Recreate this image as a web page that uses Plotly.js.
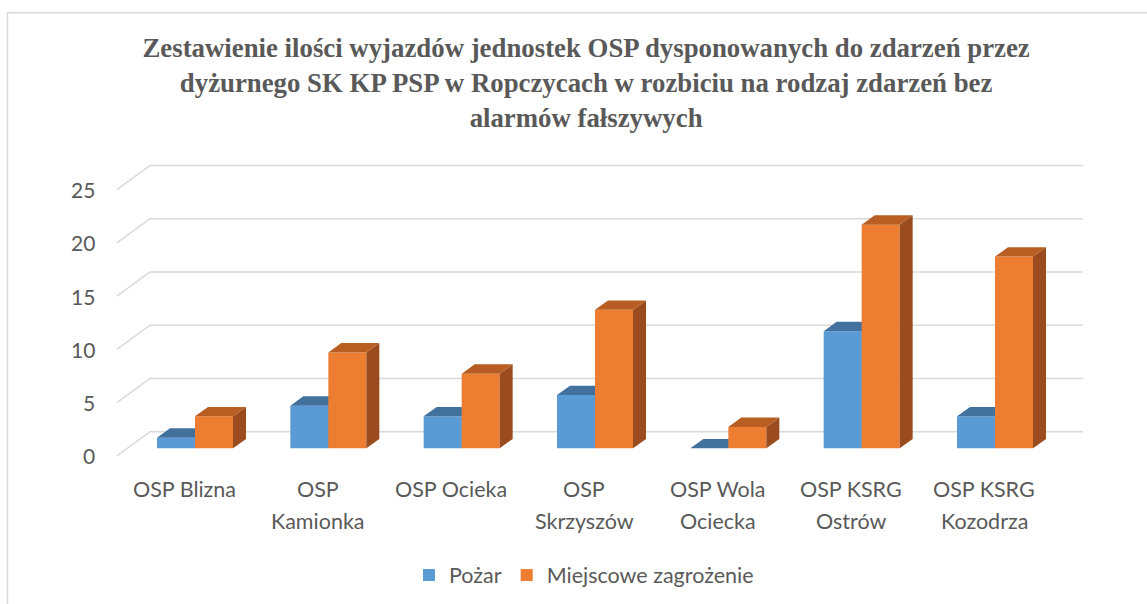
<!DOCTYPE html>
<html>
<head>
<meta charset="utf-8">
<script src="https://cdn.plot.ly/plotly-3.0.1.min.js"></script>
<style>html,body{margin:0;padding:0;background:#fff;}#chart{width:1147px;height:604px;}</style>
</head>
<body>
<div id="chart"></div>
<script>
// ---- data ----
const categories = ['OSP Blizna', 'OSP<br>Kamionka', 'OSP Ocieka', 'OSP<br>Skrzyszów', 'OSP Wola<br>Ociecka', 'OSP KSRG<br>Ostrów', 'OSP KSRG<br>Kozodrza'];
const pozar = [1, 4, 3, 5, 0, 11, 3];
const miejscowe = [3, 9, 7, 13, 2, 21, 18];
const seriesNames = ['Pożar', 'Miejscowe zagrożenie'];
const yTicks = [0, 5, 10, 15, 20, 25];
const titleText = 'Zestawienie ilości wyjazdów jednostek OSP dysponowanych do zdarzeń przez<br>dyżurnego SK KP PSP w Ropczycach w rozbiciu na rodzaj zdarzeń bez<br>alarmów fałszywych';

// ---- style / geometry (pseudo-3D) ----
const BAR_W = 0.285;          // width of one bar in category units
const DX = 0.0975, DY = 0.88; // bar depth offset
const FRONT_DX = -0.079, FRONT_DY = -0.72; // floor front plane vs bar front
const BACK_DX = 0.169, BACK_DY = 1.56;     // back wall vs bar front
const GRID_X0 = -0.3375, GRID_X1 = 6.66;
const colors = [
  {front: '#5B9BD5', top: '#42719E', side: '#3E6B96'},
  {front: '#ED7D31', top: '#B85E22', side: '#9A4C1E'}
];
const textColor = '#595959';
const gridColor = '#D9D9D9';
const FONT = 'Lato, "Liberation Sans", Arial, sans-serif';

const traces = [];

// gridlines (back wall + left connectors)
{
  const gx = [], gy = [];
  yTicks.forEach(v => {
    gx.push(GRID_X0 + FRONT_DX - BACK_DX, GRID_X0, GRID_X1, null);
    gy.push(v + FRONT_DY, v + BACK_DY, v + BACK_DY, null);
  });
  traces.push({type: 'scatter', mode: 'lines', x: gx, y: gy, line: {color: gridColor, width: 1.5},
    hoverinfo: 'skip', showlegend: false});
}

// bars as 3 faces each
[pozar, miejscowe].forEach((vals, s) => {
  const fx = [], fy = [], tx = [], ty = [], sx = [], sy = [];
  vals.forEach((v, i) => {
    const xl = s === 0 ? i - BAR_W : i;
    const xr = xl + BAR_W;
    fx.push(xl, xr, xr, xl, xl, null); fy.push(0, 0, v, v, 0, null);
    tx.push(xl, xr, xr + DX, xl + DX, xl, null); ty.push(v, v, v + DY, v + DY, v, null);
    sx.push(xr, xr + DX, xr + DX, xr, xr, null); sy.push(0, DY, v + DY, v, 0, null);
  });
  const c = colors[s];
  const common = {type: 'scatter', mode: 'lines', fill: 'toself', hoverinfo: 'skip', showlegend: false};
  traces.push(Object.assign({x: fx, y: fy, fillcolor: c.front, line: {width: 0, color: c.front}}, common));
  traces.push(Object.assign({x: sx, y: sy, fillcolor: c.side, line: {width: 0, color: c.side}}, common));
  traces.push(Object.assign({x: tx, y: ty, fillcolor: c.top, line: {width: 0, color: c.top}}, common));
});

// legend entries
seriesNames.forEach((n, s) => {
  traces.push({type: 'bar', name: n, x: [null], y: [null], marker: {color: colors[s].front}, hoverinfo: 'skip'});
});

const annotations = [];
yTicks.forEach(v => {
  annotations.push({x: GRID_X0 + FRONT_DX - BACK_DX, y: v + FRONT_DY, xref: 'x', yref: 'y', text: String(v),
    showarrow: false, xanchor: 'right', yanchor: 'middle', xshift: -20,
    font: {family: FONT, size: 21, color: textColor}});
});
categories.forEach((c, i) => {
  c.split('<br>').forEach((line, k) => {
    annotations.push({x: i + FRONT_DX, y: -0.0594 - k * 0.1, xref: 'x', yref: 'paper', text: line,
      showarrow: false, xanchor: 'center', yanchor: 'middle',
      font: {family: FONT, size: 21.5, color: textColor}});
  });
});

const layout = {
  width: 1147, height: 604,
  margin: {l: 100, r: 47, t: 150, b: 134, autoexpand: false},
  paper_bgcolor: '#fff', plot_bgcolor: 'rgba(0,0,0,0)',
  title: {text: titleText, x: 0.511, xref: 'container', xanchor: 'center', y: 1 - 57 / 604, yref: 'container', yanchor: 'top',
    font: {family: '"Liberation Serif", "Times New Roman", serif', size: 26.8, color: textColor, weight: 'bold'}},
  xaxis: {range: [-0.7125, 6.7875], visible: false, fixedrange: true},
  yaxis: {range: [-2.04, 28.01], visible: false, fixedrange: true},
  showlegend: true,
  legend: {orientation: 'h', x: 0.484, xanchor: 'center', yref: 'container', y: 29 / 604, yanchor: 'middle',
    font: {family: FONT, size: 21.5, color: textColor}, traceorder: 'normal'},
  annotations: annotations,
  shapes: [{type: 'rect', xref: 'paper', yref: 'paper', x0: -0.0925, x1: 1.2, y0: -0.6, y1: 1.429,
    line: {color: '#D9D9D9', width: 1.5}, fillcolor: 'rgba(0,0,0,0)', layer: 'below'}]
};

Plotly.newPlot('chart', traces, layout, {displayModeBar: false, staticPlot: true});
</script>
</body>
</html>
